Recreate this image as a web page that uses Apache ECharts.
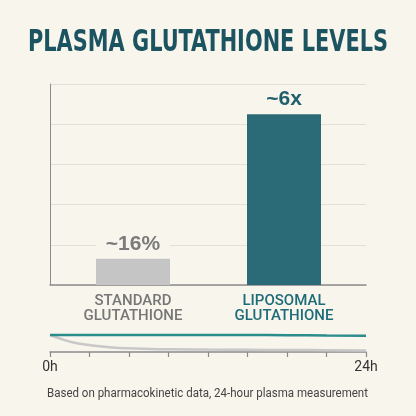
<!DOCTYPE html>
<html>
<head>
<meta charset="utf-8">
<script src="https://cdn.jsdelivr.net/npm/echarts@6/dist/echarts.min.js"></script>
<style>
html,body{margin:0;padding:0;background:#f8f5ec;}
#c{width:416px;height:416px;}
</style>
</head>
<body>
<div id="c"></div>
<script>
const titleText = 'PLASMA GLUTATHIONE LEVELS';
const footerText = 'Based on pharmacokinetic data, 24-hour plasma measurement';
const categories = ['STANDARD\nGLUTATHIONE', 'LIPOSOMAL\nGLUTATHIONE'];
const levels = [13, 85];
const valueLabels = ['~16%', '~6x'];
const hours = [0, 0.7, 1.7, 3, 4.3, 5.8, 7.6, 9.4, 12, 15, 18, 21, 24];
const standardCurve = [0.85, 0.685, 0.485, 0.35, 0.25, 0.185, 0.15, 0.135, 0.12, 0.11, 0.1, 0.09, 0.08];
const liposomalCurve = [0.85, 0.85, 0.85, 0.85, 0.85, 0.85, 0.85, 0.85, 0.85, 0.85, 0.84, 0.83, 0.81];
const timeLabels = {0: '0h', 24: '24h'};

const BG = '#f8f5ec';
const TEAL = '#2b6b77';
const GREY = '#c5c5c5';
const TITLE_FONT = 'bold 30px "DejaVu Sans Condensed", "Liberation Sans Narrow", sans-serif';
const FOOTER_FONT = '12px Roboto, sans-serif';
const ctx = document.createElement('canvas').getContext('2d');
function fitScale(font, text, target) { ctx.font = font; return target / ctx.measureText(text).width; }
const titleScale = fitScale(TITLE_FONT, titleText, 360);
const footerScale = fitScale(FOOTER_FONT, footerText, 321);

const chart = echarts.init(document.getElementById('c'), null, {renderer: 'canvas'});
chart.setOption({
  backgroundColor: BG,
  animation: false,
  graphic: [{
    type: 'text',
    x: 208, y: 43,
    scaleX: titleScale,
    style: {
      text: titleText,
      fill: '#1c5361',
      font: TITLE_FONT,
      align: 'center', verticalAlign: 'middle'
    }
  }, {
    type: 'text',
    x: 207.5, y: 394,
    scaleX: footerScale,
    style: {
      text: footerText,
      fill: '#444',
      font: FOOTER_FONT,
      align: 'center', verticalAlign: 'middle'
    }
  }],
  grid: [
    {left: 50, right: 50, top: 84, bottom: 131},
    {left: 57.5, right: 56.5, top: 84, bottom: 131},
    {left: 50, right: 50, top: 332, height: 20}
  ],
  xAxis: [
    {gridIndex: 0, type: 'category', data: categories, axisLine: {lineStyle: {color: '#8c8c8c', width: 1.5}}, axisTick: {show: false}, axisLabel: {show: false}},
    {gridIndex: 1, type: 'category', data: categories, axisLine: {show: false}, axisTick: {show: false},
      axisLabel: {
        interval: 0, hideOverlap: false,
        margin: 9, fontFamily: 'Roboto', fontSize: 15, fontWeight: 500, lineHeight: 15,
        formatter: function (v, i) { return i === 0 ? '{g|' + v.replace('\n', '}\n{g|') + '}' : '{t|' + v.replace('\n', '}\n{t|') + '}'; },
        rich: {
          g: {color: '#767676', fontFamily: 'Roboto', fontSize: 15, fontWeight: 500, lineHeight: 15},
          t: {color: '#1d6c78', fontFamily: 'Roboto', fontSize: 15, fontWeight: 500, lineHeight: 15}
        }
      }},
    {gridIndex: 2, type: 'value', min: 0, max: 24, interval: 3,
      axisLine: {lineStyle: {color: '#8a8a8a', width: 1.5}},
      axisTick: {show: true, length: 5, lineStyle: {color: '#8a8a8a', width: 1.2}},
      splitLine: {show: false},
      axisLabel: {margin: 8, fontFamily: 'Roboto', fontSize: 14, color: '#333',
        formatter: function (v) { return timeLabels[v] || ''; }}}
  ],
  yAxis: [
    {gridIndex: 0, type: 'value', min: 0, max: 100, interval: 20,
      axisLine: {show: true, lineStyle: {color: '#8c8c8c', width: 1}},
      axisTick: {show: false}, axisLabel: {show: false},
      splitLine: {lineStyle: {color: '#e2dfd7', width: 1}}},
    {gridIndex: 1, type: 'value', min: 0, max: 100, interval: 20, show: false, splitLine: {show: false}},
    {gridIndex: 2, type: 'value', min: 0, max: 1, show: false, splitLine: {show: false}}
  ],
  series: [
    {type: 'bar', xAxisIndex: 1, yAxisIndex: 1, barWidth: 74,
      data: levels.map(function (v, i) {
        return {value: v, itemStyle: {color: i === 0 ? GREY : TEAL},
          label: {show: true, position: 'top', distance: 4, formatter: valueLabels[i],
            fontFamily: 'Liberation Sans', fontWeight: 'bold', fontSize: 21,
            color: i === 0 ? '#7b7b7b' : '#1f5f6c',
            backgroundColor: BG, padding: [1, 10, 0, 10]}};
      })},
    {type: 'line', xAxisIndex: 2, yAxisIndex: 2, smooth: true, symbol: 'none',
      data: hours.map(function (h, i) { return [h, standardCurve[i]]; }),
      lineStyle: {color: '#c8c8c8', width: 2.5}},
    {type: 'line', xAxisIndex: 2, yAxisIndex: 2, smooth: true, symbol: 'none',
      data: hours.map(function (h, i) { return [h, liposomalCurve[i]]; }),
      lineStyle: {color: '#2b8c8c', width: 2.5}}
  ]
});
</script>
</body>
</html>
